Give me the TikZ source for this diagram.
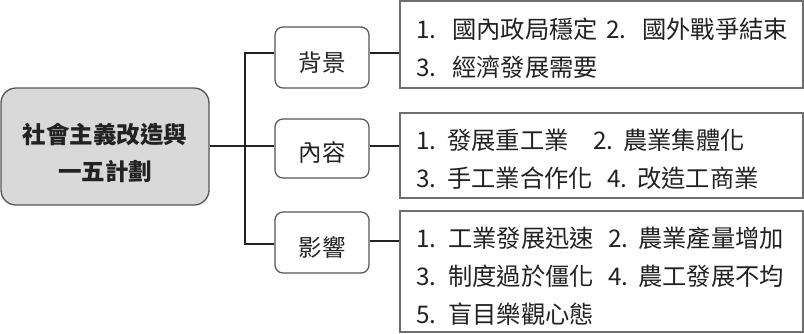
\documentclass[tikz,border=0pt]{standalone}
\usepackage{fontspec}
\setmainfont{Noto Sans CJK TC}
\definecolor{txt}{HTML}{222222}
\definecolor{mainfill}{HTML}{D9D9D9}
\definecolor{edge}{HTML}{555555}
\definecolor{boxedge}{HTML}{6E6E6E}
\tikzset{
  mainbox/.style={draw=edge, line width=1.3pt, fill=mainfill, rounded corners=15pt, inner sep=0pt},
  catbox/.style={draw=edge, line width=1.2pt, fill=white, rounded corners=8pt, inner sep=0pt},
  detbox/.style={draw=boxedge, line width=1.3pt, fill=white, inner sep=0pt},
  conn/.style={draw=txt, line width=1.2pt},
  seg/.style={anchor=base west, inner sep=0pt, text=txt, font=\fontsize{24.3}{24}\selectfont},
  ctr/.style={anchor=base, inner sep=0pt, text=txt, font=\fontsize{23.5}{24}\selectfont},
}
\begin{document}
\begin{tikzpicture}[x=1pt,y=-1pt]
\useasboundingbox (0,0) rectangle (804,333);
\fill[white] (0,0) rectangle (804,333);
% boxes
\node[mainbox, minimum width=208pt, minimum height=117pt] (main) at (105,146.5) {};
\node[catbox, minimum width=94pt, minimum height=61pt] (bg) at (322,57.5) {};
\node[catbox, minimum width=94pt, minimum height=59pt] (nr) at (322,148.5) {};
\node[catbox, minimum width=94pt, minimum height=61pt] (yx) at (322,242.5) {};
\node[detbox, minimum width=403pt, minimum height=87pt] (d1) at (601.5,44.5) {};
\node[detbox, minimum width=403pt, minimum height=85pt] (d2) at (601.5,155.5) {};
\node[detbox, minimum width=403pt, minimum height=121pt] (d3) at (601.5,271.5) {};
% connectors
\coordinate (j) at (245,146);
\draw[conn] (main.east |- j) -- (j);
\draw[conn] ([yshift=4.5pt]bg.west) -| (j) |- ([yshift=-1.5pt]yx.west);
\draw[conn] (j) -- (nr.west |- j);
\draw[conn] ([yshift=4.5pt]bg.east) -- ([yshift=4.5pt]bg.east -| d1.west);
\draw[conn] ([yshift=2.5pt]nr.east) -- ([yshift=2.5pt]nr.east -| d2.west);
\draw[conn] ([yshift=1.5pt]yx.east) -- ([yshift=1.5pt]yx.east -| d3.west);
% main text
\node[ctr, font=\fontsize{23.5}{24}\selectfont\bfseries] (m1) at (105,143) {社會主義改造與};
\node[ctr, font=\fontsize{23.5}{24}\selectfont\bfseries] (m2) at (105,180) {一五計劃};
% category text
\node[ctr] (t1) at (322,71) {背景};
\node[ctr] (t2) at (322,161) {內容};
\node[ctr] (t3) at (322,256) {影響};
% detail 1
\node[seg] (a1) at (416,38.5) {1.};
\node[seg] (a2) at (452,38.5) {國內政局穩定};
\node[seg] (a3) at (606,38.5) {2.};
\node[seg] (a4) at (642,38.5) {國外戰爭結束};
\node[seg] (a5) at (416,76.5) {3.};
\node[seg] (a6) at (452,76.5) {經濟發展需要};
% detail 2
\node[seg] (b1) at (416,149) {1.};
\node[seg] (b2) at (447,149) {發展重工業};
\node[seg] (b3) at (593,149) {2.};
\node[seg] (b4) at (623,149) {農業集體化};
\node[seg] (b5) at (416,187.5) {3.};
\node[seg] (b6) at (447,187.5) {手工業合作化};
\node[seg] (b7) at (607,187.5) {4.};
\node[seg] (b8) at (637,187.5) {改造工商業};
% detail 3
\node[seg] (c1) at (416,247.5) {1.};
\node[seg] (c2) at (448,247.5) {工業發展迅速};
\node[seg] (c3) at (608,247.5) {2.};
\node[seg] (c4) at (638,247.5) {農業產量增加};
\node[seg] (c5) at (416,285) {3.};
\node[seg] (c6) at (448,285) {制度過於僵化};
\node[seg] (c7) at (608,285) {4.};
\node[seg] (c8) at (638,285) {農工發展不均};
\node[seg] (c9) at (416,323.5) {5.};
\node[seg] (c10) at (448,323.5) {盲目樂觀心態};
\end{tikzpicture}
\end{document}
